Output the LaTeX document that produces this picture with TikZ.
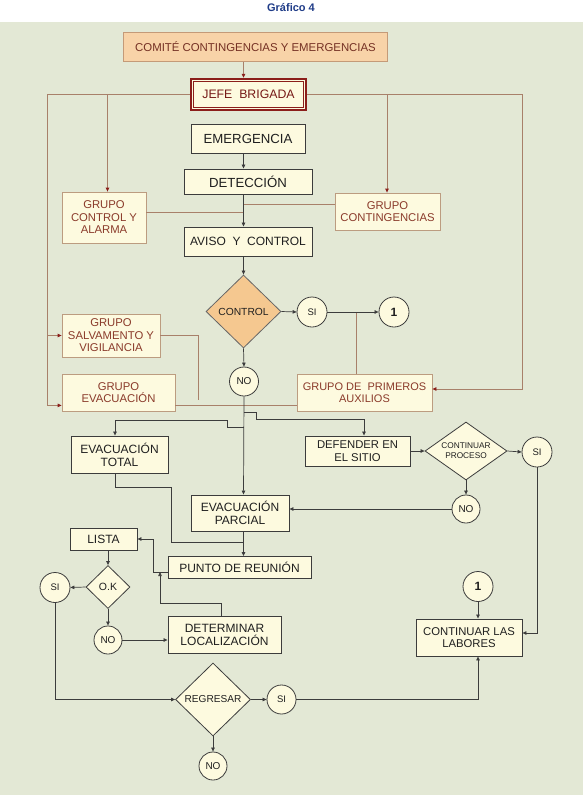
\documentclass[tikz,border=0pt]{standalone}
\usepackage{fontspec}
\setmainfont{Liberation Sans}
\usetikzlibrary{shapes.geometric,arrows.meta,calc}
\definecolor{bgc}{HTML}{E3E8D5}
\definecolor{cream}{HTML}{FDFADF}
\definecolor{peach}{HTML}{F8D3A8}
\definecolor{peachline}{HTML}{C49A78}
\definecolor{browntxt}{HTML}{8A3A2A}
\definecolor{brownline}{HTML}{A8806A}
\definecolor{darkred}{HTML}{8B1E1A}
\definecolor{grpline}{HTML}{BC9C80}
\definecolor{boxline}{HTML}{3C3C3C}
\definecolor{orangefill}{HTML}{F5C890}
\definecolor{titleblue}{HTML}{1F3C88}
\begin{document}
\begin{tikzpicture}[x=1pt,y=-1pt,
  blackbox/.style={draw=boxline, line width=0.9pt, fill=cream, text=black!88, align=center, inner sep=0pt, font=\fontsize{12}{13}\selectfont},
  grp/.style={draw=grpline, line width=0.8pt, fill=cream, text=browntxt, align=center, inner sep=0pt, font=\fontsize{11.3}{12.5}\selectfont},
  circ/.style={circle, draw=boxline, line width=0.8pt, fill=cream, inner sep=0pt, minimum size=29pt, text=black!88, font=\fontsize{9.5}{10}\selectfont},
  dia/.style={diamond, draw=boxline, line width=0.8pt, fill=cream, inner sep=0pt, text=black!88, align=center},
  conn/.style={draw=boxline, line width=0.7pt},
  arr/.style={conn, -{Triangle[length=4pt,width=3.5pt]}},
  bconn/.style={draw=brownline, line width=0.8pt},
  barr/.style={bconn, -{Triangle[length=4pt,width=3.5pt,color=darkred]}}]
\useasboundingbox (0,0) rectangle (583,795);
\fill[white] (0,0) rectangle (583,22);
\fill[bgc] (0,22) rectangle (583,795);
\node[font=\bfseries\fontsize{11}{12}\selectfont, text=titleblue] (title) at (291,8) {Gráfico 4};

% nodes
\node[draw=peachline, line width=0.8pt, fill=peach, text=browntxt!85!black, inner sep=0pt, minimum width=264pt, minimum height=29pt, font=\fontsize{11.4}{12}\selectfont] (comite) at (255.5,47) {COMITÉ CONTINGENCIAS Y EMERGENCIAS};
\node[draw=darkred, line width=2.4pt, fill=cream, inner sep=0pt, minimum width=115pt, minimum height=31pt, text=darkred!85!black, font=\fontsize{12.3}{13}\selectfont] (jefe) at (248.5,94.5) {JEFE\ \ BRIGADA};
\draw[darkred, line width=0.9pt] ([shift={(3.8pt,-3.8pt)}]jefe.north west) rectangle ([shift={(-3.8pt,3.8pt)}]jefe.south east);
\node[blackbox, minimum width=114pt, minimum height=29pt, font=\fontsize{13.2}{14}\selectfont] (emerg) at (248,138.5) {EMERGENCIA};
\node[blackbox, minimum width=128pt, minimum height=25pt, font=\fontsize{13.2}{14}\selectfont] (detec) at (248,181.5) {DETECCIÓN};
\node[grp, minimum width=84pt, minimum height=51pt] (gcontrol) at (104,217.5) {GRUPO\\CONTROL Y\\ALARMA};
\node[grp, minimum width=105pt, minimum height=37pt] (gconting) at (387.5,211.5) {GRUPO\\CONTINGENCIAS};
\node[blackbox, minimum width=128pt, minimum height=29pt] (aviso) at (248,241.5) {AVISO\ \ Y\ \ CONTROL};
\node[dia, fill=orangefill, draw=black!60, minimum width=75pt, minimum height=73pt, font=\fontsize{10.3}{11}\selectfont] (control) at (243.5,311.5) {CONTROL};
\node[circ, minimum size=30pt] (si1) at (312,312) {SI};
\node[circ, minimum size=30pt, font=\bfseries\fontsize{12}{12}\selectfont] (one1) at (394,312) {1};
\node[circ, font=\fontsize{10}{10}\selectfont] (no1) at (244,381.5) {NO};
\node[grp, minimum width=98pt, minimum height=43pt] (gsalv) at (111,335.5) {GRUPO\\SALVAMENTO Y\\VIGILANCIA};
\node[grp, minimum width=113pt, minimum height=37pt] (gevac) at (118.5,392.5) {GRUPO\\EVACUACIÓN};
\node[grp, minimum width=135pt, minimum height=37pt, font=\fontsize{11}{12.5}\selectfont] (gprim) at (364.5,392.5) {GRUPO DE\ \ PRIMEROS\\AUXILIOS};
\node[blackbox, minimum width=97pt, minimum height=37pt] (evtotal) at (119.5,454.5) {EVACUACIÓN\\TOTAL};
\node[blackbox, minimum width=105pt, minimum height=30pt, font=\fontsize{11.3}{13}\selectfont] (defender) at (357.5,451) {DEFENDER EN\\EL SITIO};
\node[dia, aspect=1.4, minimum width=82pt, minimum height=58pt, font=\fontsize{8.3}{10}\selectfont] (contproc) at (466,451) {CONTINUAR\\PROCESO};
\node[circ, minimum size=30pt] (si2) at (537,452) {SI};
\node[circ, minimum size=28pt, font=\fontsize{10}{10}\selectfont] (no2) at (466,509) {NO};
\node[blackbox, minimum width=98pt, minimum height=36pt] (evparcial) at (240,513) {EVACUACIÓN\\PARCIAL};
\node[blackbox, minimum width=67pt, minimum height=22pt] (lista) at (103.5,539) {LISTA};
\node[blackbox, minimum width=143pt, minimum height=22pt] (punto) at (239.5,567.5) {PUNTO DE REUNIÓN};
\node[dia, minimum width=44pt, minimum height=43pt, font=\fontsize{10.5}{11}\selectfont] (ok) at (108,587) {O.K};
\node[circ, minimum size=30pt] (si3) at (55,587.5) {SI};
\node[circ, minimum size=28pt, font=\fontsize{10}{10}\selectfont] (no3) at (108,640) {NO};
\node[blackbox, minimum width=113pt, minimum height=37pt] (determ) at (224.5,634.5) {DETERMINAR\\LOCALIZACIÓN};
\node[dia, minimum width=75pt, minimum height=73pt, font=\fontsize{10.1}{11}\selectfont] (regresar) at (213,699.5) {REGRESAR};
\node[circ, minimum size=29pt] (si4) at (281.5,699.5) {SI};
\node[circ, minimum size=28pt, font=\fontsize{10}{10}\selectfont] (no4) at (213,766) {NO};
\node[circ, minimum size=30pt, font=\bfseries\fontsize{12}{12}\selectfont] (uno2) at (478,586.5) {1};
\node[blackbox, minimum width=106pt, minimum height=37pt, font=\fontsize{11.3}{12.5}\selectfont] (continuar) at (469,637.5) {CONTINUAR LAS\\LABORES};

% helper coordinates
\coordinate (vx) at (243.5,0);
\coordinate (xL) at (47,0);
\coordinate (xb1) at (107.5,0);
\coordinate (xR) at (522,0);
\coordinate (xb2) at (387,0);
\coordinate (xp) at (356,0);
\coordinate (xs) at (198,0);
\coordinate (salvend) at (198,400);
\coordinate (evin) at ([yshift=6pt]gevac.south west);
\coordinate (primin) at ([yshift=3.5pt]gprim.east);
\coordinate (rb1) at (243.5,412);
\coordinate (rb2) at (256.5,419);
\coordinate (xdef) at (364,0);
\coordinate (lb1) at (243.5,427);
\coordinate (lb2) at (227.5,420);
\coordinate (xtot) at (115,0);
\coordinate (contin) at ([yshift=4.5pt]continuar.east);
\coordinate (t1) at (171,487);
\coordinate (t2) at (243.5,542);
\coordinate (pw) at ([yshift=-4.5pt]punto.west);
\coordinate (x153) at (153,0);
\coordinate (xd) at (221,0);
\coordinate (d1) at (160,603);

% brown connectors
\draw[barr] (comite.south -| vx) -- (jefe.north -| vx);
\draw[barr] (jefe.west) -- (jefe.west -| xL) -- (evin -| xL) -- (evin);
\draw[barr] (gsalv.west -| xL) -- (gsalv.west);
\draw[barr] (jefe.west -| xb1) -- (gcontrol.north -| xb1);
\draw[barr] (jefe.east) -- (jefe.east -| xR) -- (primin -| xR) -- (primin);
\draw[barr] (jefe.east -| xb2) -- (gconting.north -| xb2);
\draw[bconn] ([yshift=5.5pt]gcontrol.east) -- ([yshift=5.5pt]gcontrol.east -| vx);
\draw[bconn] ([yshift=7.5pt]gconting.west) -- ([yshift=7.5pt]gconting.west -| vx);
\draw[bconn] (gprim.north -| xp) -- (si1.east -| xp);
\draw[bconn] (gsalv.east) -- (gsalv.east -| xs) -- (salvend);
\draw[bconn] (evin -| gevac.east) -- (evin -| gprim.west);

% black connectors
\draw[arr] (emerg.south -| vx) -- (detec.north -| vx);
\draw[arr] (detec.south -| vx) -- (aviso.north -| vx);
\draw[arr] (aviso.south -| vx) -- (control.north);
\draw[arr] (control.east) -- (si1.west);
\draw[arr] (si1.east) -- (one1.west);
\draw[arr] (control.south) -- (no1.north);
\draw[arr] (no1.south) -- (evparcial.north -| vx);
\draw[arr] (rb1) -| (rb2) -| (defender.north -| xdef);
\draw[arr] (lb1) -| (lb2) -| (evtotal.north -| xtot);
\draw[arr] (defender.east) -- (contproc.west);
\draw[arr] (contproc.east) -- (si2.west);
\draw[arr] (contproc.south) -- (no2.north);
\draw[arr] (no2.west) -- (no2.west -| evparcial.east);
\draw[arr] (si2.south) |- (contin);
\draw[conn] (evtotal.south -| xtot) |- (t1) |- (t2);
\draw[arr] (evparcial.south -| vx) -- (punto.north -| vx);
\draw[arr] (pw) -- (pw -| x153) |- (lista.east);
\draw[arr] (determ.north -| xd) |- (d1) -- (d1 |- pw);
\draw[arr] (ok.north |- lista.south) -- (ok.north);
\draw[arr] (ok.west) -- (si3.east);
\draw[arr] (ok.south) -- (no3.north);
\draw[arr] (no3.east) -- (no3.east -| determ.west);
\draw[arr] (si3.south) |- (regresar.west);
\draw[arr] (regresar.east) -- (si4.west);
\draw[arr] (regresar.south) -- (no4.north);
\draw[arr] (si4.east) -| (continuar.south -| uno2.south);
\draw[arr] (uno2.south) -- (uno2.south |- continuar.north);
\end{tikzpicture}
\end{document}
